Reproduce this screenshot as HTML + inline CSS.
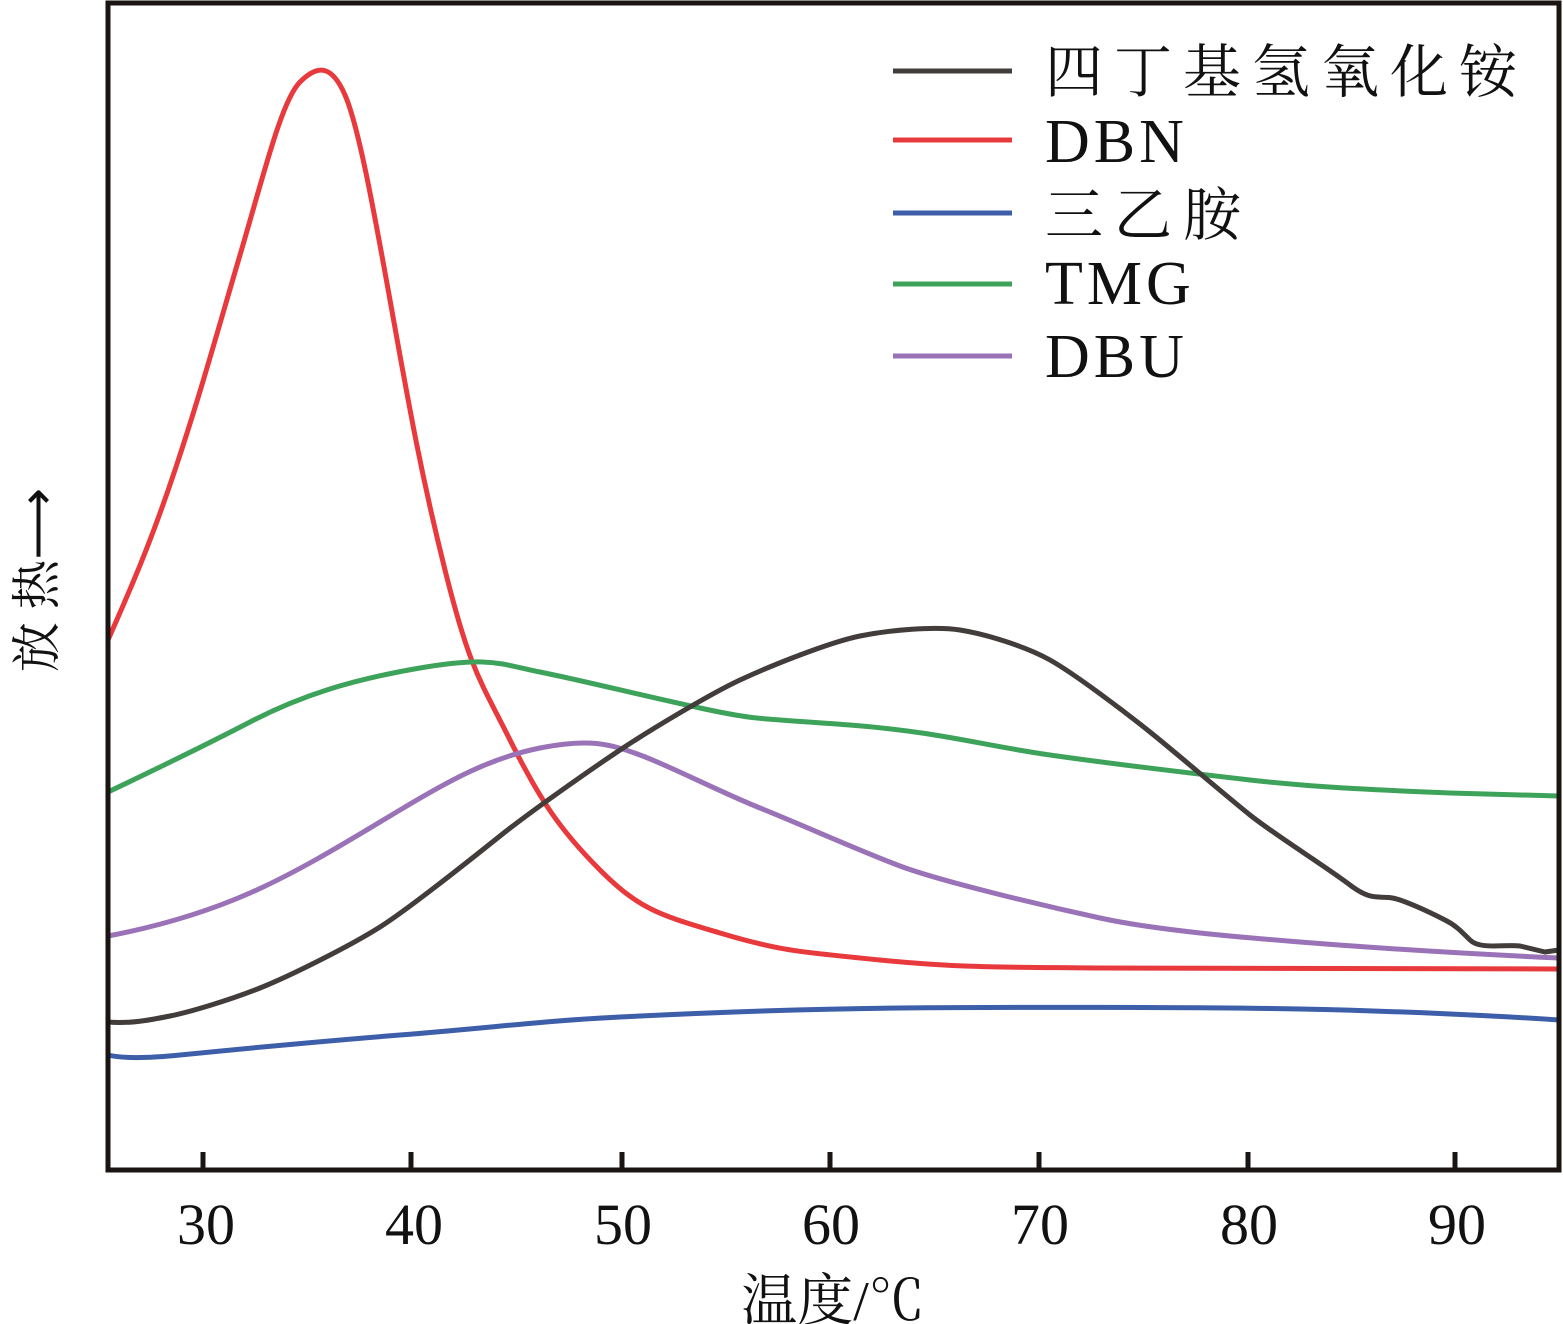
<!DOCTYPE html>
<html><head><meta charset="utf-8"><style>
html,body{margin:0;padding:0;background:#fff;}
svg{display:block;}
text{font-family:"Liberation Serif","Noto Serif CJK SC",serif;fill:#111;}
</style></head><body>
<svg width="1563" height="1324" viewBox="0 0 1563 1324" xmlns="http://www.w3.org/2000/svg">
<g fill="none" stroke-linejoin="round" stroke-linecap="round" stroke-width="5">
<path stroke="#e8393d" d="M108,640 C130,590 150,545 175,470 S215,340 240,255 S282,100 300,82 S332,65 345,95 S372,200 390,300 S420,470 445,570 S480,680 510,740 S560,830 600,870 S660,915 720,933 S800,952 880,960 S1000,967 1100,968 L1559,969"/>
<path stroke="#3d5ea8" d="M108,1055 C120,1058 140,1059 180,1055 S300,1043 400,1035 S540,1021 620,1017 S800,1009 900,1008 S1200,1007 1300,1009 S1500,1016 1559,1020"/>
<path stroke="#3ea35a" d="M108,792 C150,772 200,748 250,722 S350,680 420,668 S500,664 540,672 S640,695 700,708 S760,718 850,725 S980,745 1050,755 S1180,772 1250,780 S1400,791 1450,793 L1559,796"/>
<path stroke="#9a72b8" d="M108,936 C150,928 200,915 250,893 S350,840 400,810 S490,758 540,748 S610,744 640,755 S720,792 760,808 S860,851 900,866 S1040,905 1100,918 S1250,938 1300,942 S1450,953 1559,958"/>
<path stroke="#423d3b" d="M108,1022 C130,1024 150,1020 170,1016 S230,1000 260,988 S350,946 380,927 S470,860 500,836 S590,770 620,750 S710,694 740,680 S830,642 860,636 S935,626 960,630 S1025,646 1050,660 S1125,712 1150,732 S1225,795 1250,815 S1325,866 1350,885 S1380,893 1400,900 S1435,915 1445,920 S1460,930 1470,940 S1505,944 1520,946 L1545,952 L1559,950"/>
</g>
<g stroke="#1a1512" stroke-width="5" fill="none">
<path d="M108,3 L1559,3 L1559,1170 L108,1170 Z"/>
<path d="M203,1152V1170M411,1152V1170M622,1152V1170M830,1152V1170M1039,1152V1170M1248,1152V1170M1455,1152V1170"/>
</g>
<g font-size="58" text-anchor="middle">
<text x="206" y="1244">30</text><text x="414" y="1244">40</text><text x="623" y="1244">50</text>
<text x="831" y="1244">60</text><text x="1040" y="1244">70</text><text x="1249" y="1244">80</text><text x="1457" y="1244">90</text>
<text x="833" y="1320" font-size="56">温度/℃</text>
</g>
<text transform="translate(54,580) rotate(-90)" font-size="50" text-anchor="middle">放 热⟶</text>
<g stroke-width="5">
<line x1="893" y1="71" x2="1012" y2="71" stroke="#423d3b"/>
<line x1="893" y1="140" x2="1012" y2="140" stroke="#e8393d"/>
<line x1="893" y1="213" x2="1012" y2="213" stroke="#3d5ea8"/>
<line x1="893" y1="284" x2="1012" y2="284" stroke="#3ea35a"/>
<line x1="893" y1="356" x2="1012" y2="356" stroke="#9a72b8"/>
</g>
<g font-size="62">
<text x="1045" y="92" font-size="58" letter-spacing="11">四丁基氢氧化铵</text>
<text x="1045" y="162" letter-spacing="4">DBN</text>
<text x="1045" y="235" font-size="58" letter-spacing="11">三乙胺</text>
<text x="1045" y="304" letter-spacing="4">TMG</text>
<text x="1045" y="377" letter-spacing="4">DBU</text>
</g>
</svg>
</body></html>
